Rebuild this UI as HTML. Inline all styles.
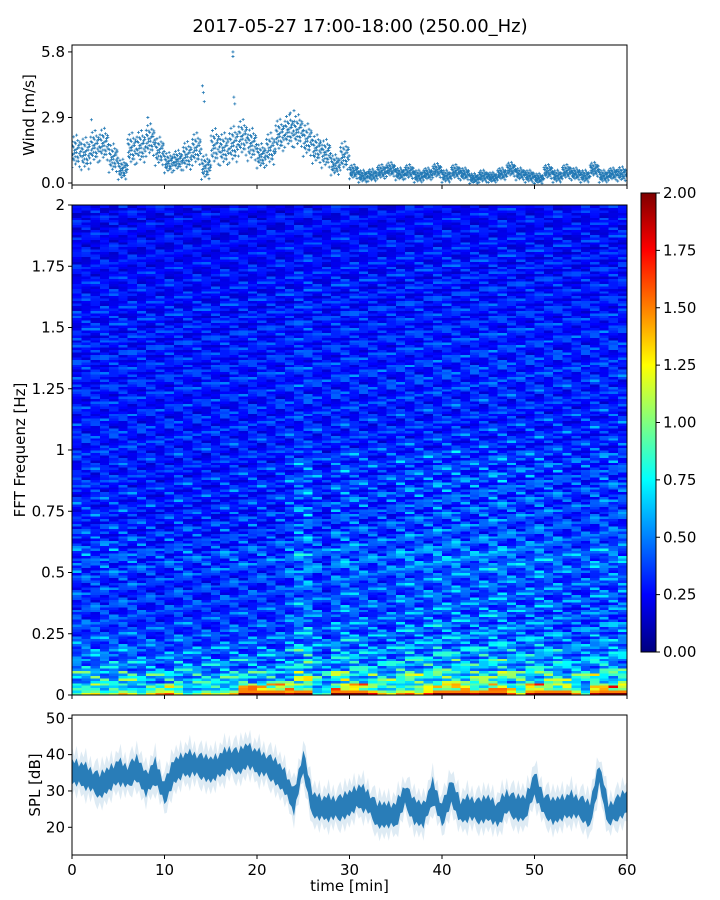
<!DOCTYPE html>
<html><head><meta charset="utf-8">
<style>
html,body{margin:0;padding:0;background:#fff;}
svg{display:block;font-family:"DejaVu Sans","Liberation Sans",sans-serif;}
</style></head>
<body>
<svg id="chart" width="720" height="900" viewBox="0 0 720 900" xmlns="http://www.w3.org/2000/svg">
<text x="360" y="32" text-anchor="middle" font-size="18">2017-05-27 17:00-18:00 (250.00_Hz)</text>
<defs>
<linearGradient id="jet" x1="0" y1="1" x2="0" y2="0">
<stop offset="0" stop-color="#00007f"/><stop offset="0.125" stop-color="#0000ff"/><stop offset="0.375" stop-color="#00ffff"/><stop offset="0.625" stop-color="#ffff00"/><stop offset="0.875" stop-color="#ff0000"/><stop offset="1" stop-color="#7f0000"/>
</linearGradient>
<clipPath id="clipTop"><rect x="72" y="45" width="555" height="140"/></clipPath>
<clipPath id="clipBot"><rect x="72" y="715" width="555" height="140"/></clipPath>
</defs>
<g id="wind"></g>
<g id="spec"></g>
<g id="cbar"></g>
<g id="spl"></g>
</svg>
<script>
// ---- data ----
const minutes = [0,1,2,3,4,5,6,7,8,9,10,11,12,13,14,15,16,17,18,19,20,21,22,23,24,25,26,27,28,29,30,31,32,33,34,35,36,37,38,39,40,41,42,43,44,45,46,47,48,49,50,51,52,53,54,55,56,57,58,59];
const windMean = [1.4,1.3,1.6,1.7,1.1,0.6,1.5,1.6,1.9,1.4,0.9,1.0,1.2,1.5,0.7,1.6,1.5,1.7,2.0,1.7,1.2,1.5,2.1,2.3,2.3,1.9,1.5,1.3,0.8,1.2,0.5,0.3,0.35,0.5,0.6,0.4,0.5,0.3,0.4,0.55,0.3,0.5,0.4,0.2,0.3,0.25,0.4,0.6,0.4,0.3,0.2,0.5,0.3,0.5,0.4,0.3,0.6,0.3,0.4,0.4];
const windSpread = [0.8,0.8,0.8,0.8,0.7,0.5,0.8,0.8,0.8,0.7,0.5,0.5,0.7,0.8,0.6,0.9,0.8,0.9,0.9,0.8,0.6,0.8,0.8,0.8,0.8,0.8,0.7,0.7,0.5,0.7,0.35,0.3,0.3,0.35,0.35,0.3,0.35,0.3,0.3,0.35,0.3,0.35,0.3,0.25,0.3,0.25,0.3,0.35,0.3,0.3,0.25,0.35,0.3,0.35,0.3,0.3,0.35,0.3,0.3,0.35];
const windOutT = [17.4,17.4,14.1,14.2,17.5,17.6,14.3,23.6,24.0,8.2,2.1];
const windOutV = [5.8,5.6,4.3,4.0,3.8,3.5,3.6,3.1,3.2,2.9,2.8];
const windTicks = [0.0,2.9,5.8];

const splT = [0,1,2,3,4,5,6,7,8,9,10,11,12,13,14,15,16,17,18,19,20,21,22,23,24,25,26,27,28,29,30,31,32,33,34,35,36,37,38,39,40,41,42,43,44,45,46,47,48,49,50,51,52,53,54,55,56,57,58,59,60];
const splMean = [35.3,34.6,33.2,31.4,33.2,35.3,34.0,36.2,31.9,35.3,29.5,35.3,37.1,37.6,36.7,35.8,37.1,38.9,38.0,39.8,38.0,37.1,35.3,32.6,27.1,38.0,26.2,25.3,25.3,25.3,26.6,28.5,27.1,23.4,23.4,23.4,28.9,24.4,23.4,29.8,23.4,29.8,24.4,25.3,24.4,25.3,23.4,27.1,25.3,25.3,31.9,26.2,24.4,25.3,26.2,25.3,23.4,34.6,23.4,25.3,27.1];
const splTicks = [20,30,40,50];
const xTicks = [0,10,20,30,40,50,60];

const freqLevel = [1.0,0.65,0.5,0.45,0.4,0.37,0.35,0.35,0.34,0.34,0.37,0.38,0.34,0.32,0.31,0.31,0.31,0.31,0.3,0.3,0.3,0.3,0.29,0.29,0.29,0.3,0.3,0.29,0.29,0.29,0.28,0.28,0.27,0.27,0.26,0.26,0.25,0.25,0.24,0.24];
const lowBand = [0.9,1.2,1.3,1.0,1.1,1.4,1.2,0.9,1.3,1.5,1.6,1.2,0.8,1.0,1.3,1.1,1.2,1.4,2.0,2.0,2.0,2.0,2.0,1.9,2.0,2.0,0.8,0.9,2.0,2.0,2.0,2.0,1.8,1.4,1.2,1.5,1.6,1.3,1.7,2.0,2.0,2.0,2.0,1.9,2.0,2.0,2.0,1.6,1.2,1.9,2.0,2.0,2.0,2.0,1.5,0.9,1.9,2.0,2.0,2.0];
const colFactor = [1,1,1,1,1,1,1,0.95,0.95,0.9,0.95,1,1,0.95,0.95,0.95,1,1,1,1,1,1,1,1.1,1.3,1.35,1.1,0.95,1.2,1.25,1.2,1.15,1.1,1.1,1.1,1.2,1.25,1.2,1.2,1.3,1.25,1.3,1.2,1.2,1.25,1.3,1.3,1.2,1.2,1.2,1.25,1.2,1.2,1.1,1.1,1.1,1.2,1.2,1.2,1.2];
const texture = [0.7,1.25,0.9,1.4,0.75,1.1,0.6,1.3,1.0,0.85,1.5,0.7,1.15,0.95,0.65,1.3,1.05,0.8,1.35];
const texture2 = [1.0,0.85,1.15,0.9,1.2,1.05,0.8,1.1,0.95,1.25,0.9,1.0,0.75,1.1,1.2,0.9,1.05,0.85,1.3,0.95,1.0,1.15,0.8];
const freqTicks = [0,0.25,0.5,0.75,1,1.25,1.5,1.75,2];
const freqTickLabels = ["0","0.25","0.5","0.75","1","1.25","1.5","1.75","2"];
const cbarTicks = ["0.00","0.25","0.50","0.75","1.00","1.25","1.50","1.75","2.00"];
const windOffsets = [-0.9,0.3,-0.4,0.8,-0.1,0.5,-0.7,0.1,0.9,-0.3,0.6,-0.55,0.2,-0.85,0.4,0.0];
const splJag = [1.5,-1.0,2.0,-2.2,0.8,-0.5,2.5,-1.8,1.0,-2.5,0.3,1.8,-1.2,2.2,-0.8];

// ---- helpers ----
const NS="http://www.w3.org/2000/svg";
function mk(tag,attrs,parent){const e=document.createElementNS(NS,tag);for(const k in attrs)e.setAttribute(k,attrs[k]);parent.appendChild(e);return e;}
const X0=72,X1=627;
const xs = t => X0 + (t/60)*(X1-X0);
function jet(v){let t=Math.max(0,Math.min(1,v/2));const c=x=>Math.round(255*Math.max(0,Math.min(1,x)));return `rgb(${c(1.5-Math.abs(4*t-3))},${c(1.5-Math.abs(4*t-2))},${c(1.5-Math.abs(4*t-1))})`;}
function frame(g,y0,y1,name){const r=mk('rect',{x:X0,y:y0,width:X1-X0,height:y1-y0,fill:'none',stroke:'#000','stroke-width':1},g);}
function yTick(g,y,label,name){const l=mk('line',{x1:X0-4,x2:X0,y1:y,y2:y,stroke:'#000'},g);const t=mk('text',{x:X0-7,y:y+5,'text-anchor':'end','font-size':15},g);t.textContent=label;}
function xTickMarks(g,yb,labels){xTicks.forEach(v=>{const l=mk('line',{x1:xs(v),x2:xs(v),y1:yb,y2:yb+4,stroke:'#000'},g);if(labels){const t=mk('text',{x:xs(v),y:yb+20,'text-anchor':'middle','font-size':15},g);t.textContent=v;}});}
function yLabel(g,x,y,txt,name){const t=mk('text',{x:x,y:y,'text-anchor':'middle','font-size':15,transform:`rotate(-90 ${x} ${y})`},g);t.textContent=txt;}

// ---- wind panel ----
(function(){
const g=document.getElementById('wind');
const WY0=45,WY1=185;
const wy=v=>183-v*22.6;
const pts=mk('g',{'clip-path':'url(#clipTop)',stroke:'#1f77b4','stroke-width':0.8},g);


function plus(t,v){const x=xs(t),y=wy(v);const p=mk('path',{d:`M${x-1.5} ${y}h3M${x} ${y-1.5}v3`},pts);}
minutes.forEach((m,i)=>{const n=windOffsets.length;windOffsets.forEach((o,k)=>{plus(m+k/n,windMean[i]+o*windSpread[i]);plus(m+(k+0.5)/n,windMean[i]-o*windSpread[i]*0.6);});});
windOutT.forEach((t,i)=>plus(t,windOutV[i]));
frame(g,WY0,WY1,'wind-axes-frame');
windTicks.forEach(v=>yTick(g,wy(v),v.toFixed(1),'wind-y'));
xTickMarks(g,WY1,false);
yLabel(g,34,115,'Wind [m/s]','wind-y-axis-title');
})();

// ---- spectrogram ----
(function(){
const g=document.getElementById('spec');
const SY0=205,SY1=695;
const fy=f=>SY1-(f/2)*(SY1-SY0);
const cells=mk('g',{'shape-rendering':'crispEdges'},g);


const nR=freqLevel.length,sub=5;
const cw=(X1-X0)/minutes.length;
minutes.forEach((m,c)=>{
  for(let r=0;r<nR;r++){
    for(let s=0;s<sub;s++){
      let v;
      const k=r*sub+s;
      const tx=texture[(k*5+c*3)%texture.length]*texture2[(k+c*7)%texture2.length];
      if(r===0){ v = s<2 ? lowBand[c]*(s===0?1:0.75) : lowBand[c]*0.45*tx+0.2; }
      else if(r<20){ v=freqLevel[r]*colFactor[c]*tx; }
      else { v=freqLevel[r]*(1+(colFactor[c]-1)*0.3)*tx; }
      const f0=(r+s/sub)*0.05, f1=(r+(s+1)/sub)*0.05;
      const e=mk('rect',{x:xs(m).toFixed(2),y:fy(f1).toFixed(2),width:(cw+0.5).toFixed(2),height:(fy(f0)-fy(f1)+0.5).toFixed(2),fill:jet(v)},cells);
      
      
    }
  }
});
frame(g,SY0,SY1,'spectrogram-axes-frame');
freqTicks.forEach((f,i)=>yTick(g,fy(f),freqTickLabels[i],'freq-y'));
xTickMarks(g,SY1,false);
yLabel(g,25,450,'FFT Frequenz [Hz]','freq-y-axis-title');
})();

// ---- colorbar ----
(function(){
const g=document.getElementById('cbar');
const CY0=193,CY1=652,CX=641,CW=15;
const r=mk('rect',{x:CX,y:CY0,width:CW,height:CY1-CY0,fill:'url(#jet)',stroke:'#000','stroke-width':1},g);


cbarTicks.forEach((lab,i)=>{const y=CY1-(i/(cbarTicks.length-1))*(CY1-CY0);
const l=mk('line',{x1:CX+CW,x2:CX+CW+4,y1:y,y2:y,stroke:'#000'},g);
const t=mk('text',{x:CX+CW+7,y:y+5,'font-size':15},g);t.textContent=lab;});
})();

// ---- SPL ----
(function(){
const g=document.getElementById('spl');
const PY0=715,PY1=855;
const py=v=>718.3+(50-v)*3.633;
const cg=mk('g',{'clip-path':'url(#clipBot)'},g);
const nSub=4;
function band(w,op,name,jag){let up=[],dn=[];splT.forEach((t,i)=>{if(i===splT.length-1){up.push([xs(t),py(splMean[i]+w)]);dn.push([xs(t),py(splMean[i]-w)]);return;}for(let s=0;s<nSub;s++){const f=s/nSub;const mv=splMean[i]*(1-f)+splMean[i+1]*f;const j=jag*splJag[(i*nSub+s)%splJag.length];up.push([xs(t+f),py(mv+w+j)]);dn.push([xs(t+f),py(mv-w-j*0.8)]);}});
let d='M'+up.map(p=>p[0].toFixed(1)+' '+p[1].toFixed(1)).join('L');d+='L'+dn.reverse().map(p=>p[0].toFixed(1)+' '+p[1].toFixed(1)).join('L')+'Z';
const p=mk('path',{d:d,fill:'#1f77b4','fill-opacity':op},cg);}
band(5.5,0.15,'spl-outer-band',1.0);
band(3.0,0.95,'spl-core-band',0.5);
frame(g,PY0,PY1,'spl-axes-frame');
splTicks.forEach(v=>yTick(g,py(v),String(v),'spl-y'));
xTickMarks(g,PY1,true);
yLabel(g,40,785,'SPL [dB]','spl-y-axis-title');
const t=mk('text',{x:(X0+X1)/2,y:891,'text-anchor':'middle','font-size':15},g);t.textContent='time [min]';


})();
</script>
</body></html>
